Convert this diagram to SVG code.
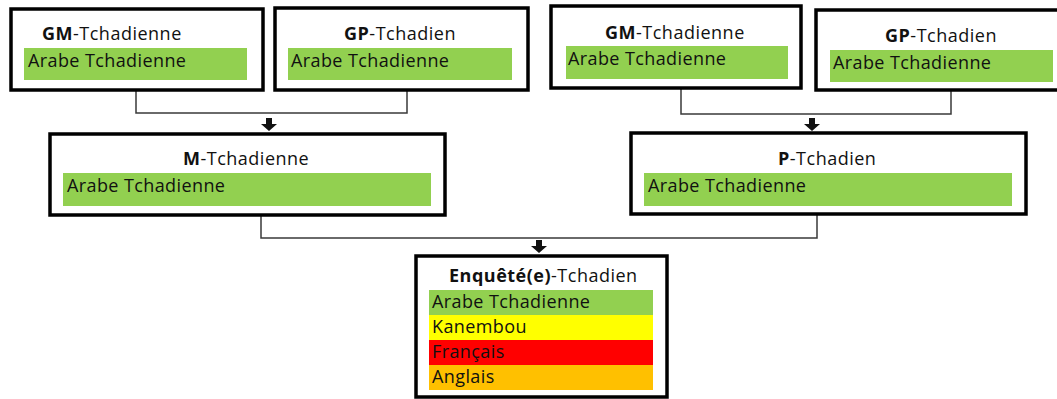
<svg xmlns="http://www.w3.org/2000/svg" width="1057" height="399" viewBox="0 0 1057 399">
  <style>
    .box { fill: #ffffff; stroke: #000000; stroke-width: 3.5; }
    .lang { font-family: "Open Sans", "Liberation Sans", sans-serif; font-size: 18px; letter-spacing: 0.4px; fill: #111111; }
    .title { font-family: "Open Sans", "Liberation Sans", sans-serif; font-size: 18px; letter-spacing: 0.5px; fill: #111111; }
    .title .b { font-weight: bold; }
    .green { fill: #92D050; }
    .yellow { fill: #FFFF00; }
    .red { fill: #FF0000; }
    .orange { fill: #FFC000; }
    .wire { fill: none; stroke: #3a3a3a; stroke-width: 1.5; }
    .head { fill: #111111; }
  </style>
  <defs>
    <!-- small block arrow pointing down, tip at (0,0) -->
    <path id="down" d="M-3,-13 h6 v6 h5 l-8,7 l-8,-7 h5 z"/>
  </defs>
  <rect width="1057" height="399" fill="#ffffff"/>

  <g id="connectors">
    <path class="wire" d="M136,91 V113 H407 V91"/>
    <path class="wire" d="M681,89 V114 H951 V91"/>
    <path class="wire" d="M261,216 V238 H817 V215"/>
    <use href="#down" class="head" x="269" y="131"/>
    <use href="#down" class="head" x="812" y="131"/>
    <use href="#down" class="head" x="539" y="253"/>
  </g>

  <g id="gm-left">
    <rect class="box" x="11" y="9" width="252" height="81"/>
    <rect class="green" x="24" y="48" width="223" height="32"/>
    <text class="title" x="42" y="40"><tspan class="b">GM</tspan>-Tchadienne</text>
    <text class="lang" x="28" y="67">Arabe Tchadienne</text>
  </g>

  <g id="gp-left">
    <rect class="box" x="275" y="8" width="253" height="82"/>
    <rect class="green" x="288" y="48" width="224" height="32"/>
    <text class="title" x="344" y="40"><tspan class="b">GP</tspan>-Tchadien</text>
    <text class="lang" x="291" y="67">Arabe Tchadienne</text>
  </g>

  <g id="gm-right">
    <rect class="box" x="551" y="6" width="250" height="82"/>
    <rect class="green" x="566" y="46" width="222" height="33"/>
    <text class="title" x="605" y="39"><tspan class="b">GM</tspan>-Tchadienne</text>
    <text class="lang" x="568" y="65">Arabe Tchadienne</text>
  </g>

  <g id="gp-right">
    <rect class="box" x="816" y="10" width="246" height="80"/>
    <rect class="green" x="830" y="50" width="223" height="32"/>
    <text class="title" x="885" y="42"><tspan class="b">GP</tspan>-Tchadien</text>
    <text class="lang" x="833" y="69">Arabe Tchadienne</text>
  </g>

  <g id="m-tchadienne">
    <rect class="box" x="50" y="134" width="395" height="81"/>
    <rect class="green" x="63" y="173" width="368" height="33"/>
    <text class="title" x="183" y="165"><tspan class="b">M</tspan>-Tchadienne</text>
    <text class="lang" x="67" y="192">Arabe Tchadienne</text>
  </g>

  <g id="p-tchadien">
    <rect class="box" x="631" y="133" width="395" height="81"/>
    <rect class="green" x="644" y="173" width="368" height="33"/>
    <text class="title" x="778" y="165"><tspan class="b">P</tspan>-Tchadien</text>
    <text class="lang" x="648" y="192">Arabe Tchadienne</text>
  </g>

  <g id="enquete-tchadien">
    <rect class="box" x="416" y="256" width="251" height="141"/>
    <text class="title" x="449" y="282"><tspan class="b">Enquêté(e)</tspan>-Tchadien</text>
    <rect class="green" x="429" y="290" width="224" height="25"/>
    <rect class="yellow" x="429" y="315" width="224" height="25"/>
    <rect class="red" x="429" y="340" width="224" height="25"/>
    <rect class="orange" x="429" y="365" width="224" height="25"/>
    <text class="lang" x="432" y="308">Arabe Tchadienne</text>
    <text class="lang" x="432" y="333">Kanembou</text>
    <text class="lang" x="432" y="358">Français</text>
    <text class="lang" x="432" y="383">Anglais</text>
  </g>
</svg>
